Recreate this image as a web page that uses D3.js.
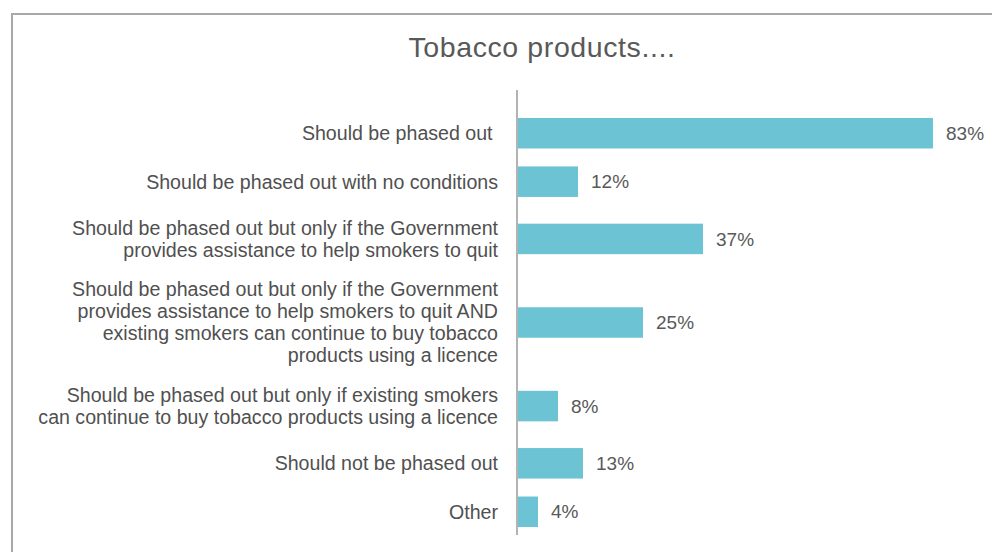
<!DOCTYPE html>
<html>
<head>
<meta charset="utf-8">
<script src="https://cdn.jsdelivr.net/npm/d3@7"></script>
<style>
  html, body { margin: 0; padding: 0; background: #fff; }
  svg { display: block; font-family: "Liberation Sans", Arial, Helvetica, sans-serif; }
</style>
</head>
<body>
<svg id="chart" width="992" height="552"></svg>
<script>
// Survey responses: each label is stored as its wrapped lines
const categoryLines = [
  ["Should be phased out "],
  ["Should be phased out with no conditions"],
  ["Should be phased out but only if the Government",
   "provides assistance to help smokers to quit"],
  ["Should be phased out but only if the Government",
   "provides assistance to help smokers to quit AND",
   "existing smokers can continue to buy tobacco",
   "products using a licence"],
  ["Should be phased out but only if existing smokers",
   "can continue to buy tobacco products using a licence"],
  ["Should not be phased out"],
  ["Other"]
];
const values = [83, 12, 37, 25, 8, 13, 4];
const valueLabels = ["83%", "12%", "37%", "25%", "8%", "13%", "4%"];
const title = "Tobacco products....";

const W = 992, H = 552;
const svg = d3.select("#chart");

// frame (left and top edges only)
svg.append("path")
  .attr("d", `M12,${H} L12,14 L${W},14`)
  .attr("fill", "none")
  .attr("stroke", "#a8a8a8")
  .attr("stroke-width", 2);

svg.append("text")
  .attr("x", 542).attr("y", 57)
  .attr("text-anchor", "middle")
  .attr("font-size", 28.5)
  .attr("letter-spacing", 0.6)
  .attr("fill", "#595959")
  .text(title);

// horizontal value scale
const axisX = 517;
const x = d3.scaleLinear().domain([0, 100]).range([axisX + 1, axisX + 501]);

// vertical layout: each row takes space proportional to its label lines plus a fixed gap
const gapUnits = 1.76;
const weights = categoryLines.map(l => l.length + gapUnits);
const cum = [0, ...d3.cumsum(weights)];
const y = d3.scaleLinear().domain([0, cum[cum.length - 1]]).range([109, 536]);
const centers = weights.map((w, i) => y(cum[i] + w / 2));

const barH = 30.5;
const lineH = 22;

const rows = svg.append("g").selectAll("g")
  .data(values.map((v, i) => ({ v, i, lines: categoryLines[i], label: valueLabels[i], cy: centers[i] })))
  .join("g");

rows.append("rect")
  .attr("x", x(0))
  .attr("y", d => d.cy - barH / 2)
  .attr("width", d => x(d.v) - x(0))
  .attr("height", barH)
  .attr("fill", "#6cc3d4");

rows.append("text")
  .attr("x", d => x(d.v) + 13)
  .attr("y", d => d.cy)
  .attr("dy", "0.35em")
  .attr("font-size", 19)
  .attr("fill", "#595959")
  .text(d => d.label);

const labels = rows.append("text")
  .attr("text-anchor", "end")
  .attr("font-size", 19.6)
  .attr("fill", "#505050")
  .style("white-space", "pre");

labels.selectAll("tspan")
  .data(d => d.lines.map((t, k) => ({ t, k, n: d.lines.length, cy: d.cy })))
  .join("tspan")
  .attr("x", 498)
  .attr("y", d => d.cy + (d.k - (d.n - 1) / 2) * lineH)
  .attr("dy", "0.35em")
  .text(d => d.t);

// category axis line
svg.append("line")
  .attr("x1", axisX).attr("x2", axisX)
  .attr("y1", 90).attr("y2", 535)
  .attr("stroke", "#b3b3b3")
  .attr("stroke-width", 2);
</script>
</body>
</html>
